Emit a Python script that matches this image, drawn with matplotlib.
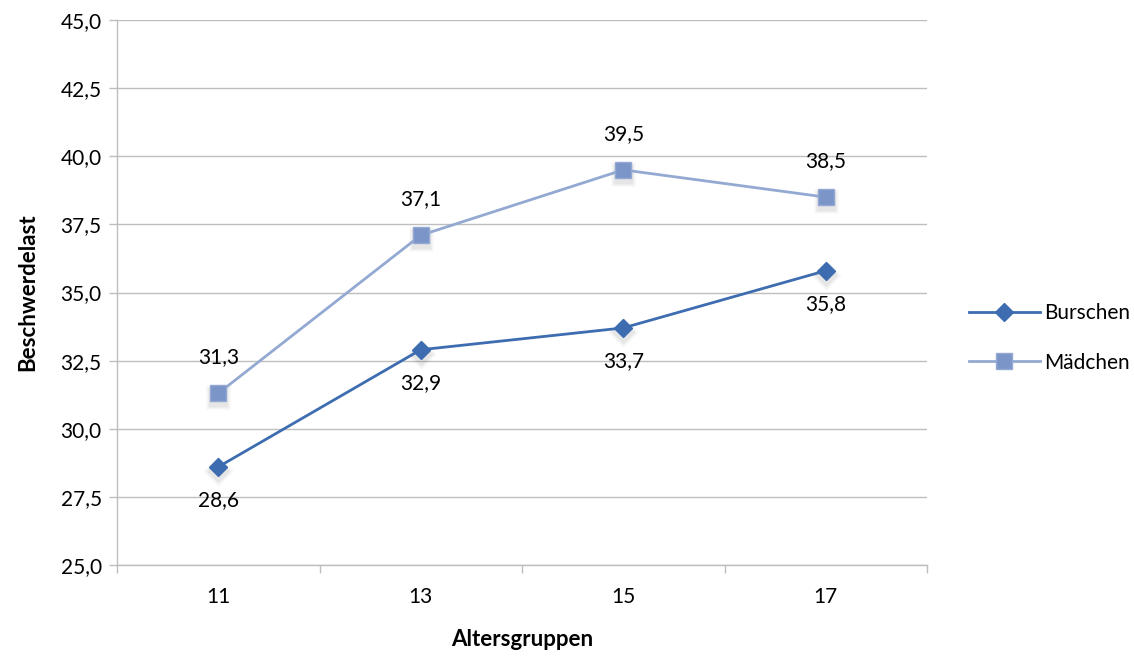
import matplotlib
matplotlib.use("Agg")
import matplotlib.pyplot as plt
from matplotlib.ticker import FixedLocator, FuncFormatter
from matplotlib.lines import Line2D

plt.rcParams['font.family'] = ['Lato', 'DejaVu Sans']

age_groups = ["11", "13", "15", "17"]
burschen = [28.6, 32.9, 33.7, 35.8]
maedchen = [31.3, 37.1, 39.5, 38.5]
y_ticks = [25.0, 27.5, 30.0, 32.5, 35.0, 37.5, 40.0, 42.5, 45.0]

c_b = "#3D6DB0"
c_m_line = "#93A9D2"
c_m_face = "#7C95C9"
grid_c = "#BEBEBE"
fs = 15

fig = plt.figure(figsize=(11.34, 6.57), dpi=100)
ax = fig.add_axes([117/1134, 92/657, 810/1134, 545/657])

x = list(range(len(age_groups)))
# soft shadows under the markers
for xs, ys, mk, ms in [(x, burschen, "D", 9), (x, maedchen, "s", 11)]:
    for grow, a in [(6, 0.04), (3, 0.06)]:
        ax.plot(xs, [v - 0.15 for v in ys], ls="none", marker=mk,
                ms=ms + grow, color="#000000", alpha=a, zorder=2, mec="none")

ax.plot(x, burschen, color=c_b, lw=2, marker="D", ms=9, mfc=c_b, mec=c_b, zorder=3)
ax.plot(x, maedchen, color=c_m_line, lw=2, marker="s", ms=11, mfc=c_m_face,
        mec=c_m_line, zorder=3)

for xi, v in zip(x, burschen):
    ax.annotate(f"{v:.1f}".replace(".", ","), (xi, v), xytext=(0, -24),
                textcoords="offset points", ha="center", va="center", fontsize=fs)
for xi, v in zip(x, maedchen):
    ax.annotate(f"{v:.1f}".replace(".", ","), (xi, v), xytext=(0, 26),
                textcoords="offset points", ha="center", va="center", fontsize=fs)

ax.set_xlim(-0.5, len(age_groups) - 0.5)
ax.set_ylim(25, 45)
ax.yaxis.set_major_locator(FixedLocator(y_ticks))
ax.yaxis.set_major_formatter(FuncFormatter(lambda v, p: f"{v:.1f}".replace(".", ",")))
ax.set_xticks(x)
ax.set_xticklabels(age_groups)
ax.xaxis.set_minor_locator(FixedLocator([i - 0.5 for i in range(len(age_groups) + 1)]))
ax.tick_params(axis="x", which="major", length=0, labelsize=fs, pad=16)
ax.tick_params(axis="x", which="minor", length=6, color=grid_c, width=1)
ax.tick_params(axis="y", length=6, color=grid_c, width=1, labelsize=fs, pad=5)

ax.grid(axis="y", color=grid_c, lw=1)
ax.set_axisbelow(True)
for s in ["top", "right"]:
    ax.spines[s].set_visible(False)
for s in ["left", "bottom"]:
    ax.spines[s].set_color(grid_c)
    ax.spines[s].set_linewidth(1)

ax.set_ylabel("Beschwerdelast", fontsize=fs + 1, fontweight="bold", labelpad=16)
ax.set_xlabel("Altersgruppen", fontsize=fs + 1, fontweight="bold", labelpad=16)

handles = [
    Line2D([], [], color=c_b, lw=2, marker="D", ms=9, mfc=c_b, mec=c_b),
    Line2D([], [], color=c_m_line, lw=2, marker="s", ms=11, mfc=c_m_face, mec=c_m_line),
]
fig.legend(handles, ["Burschen", "Mädchen"], loc="center left",
           bbox_to_anchor=(950/1134, 1 - 338/657), frameon=False, fontsize=fs,
           handlelength=3.4, handletextpad=0.2, labelspacing=1.4)

fig.savefig("out.png", dpi=100)
